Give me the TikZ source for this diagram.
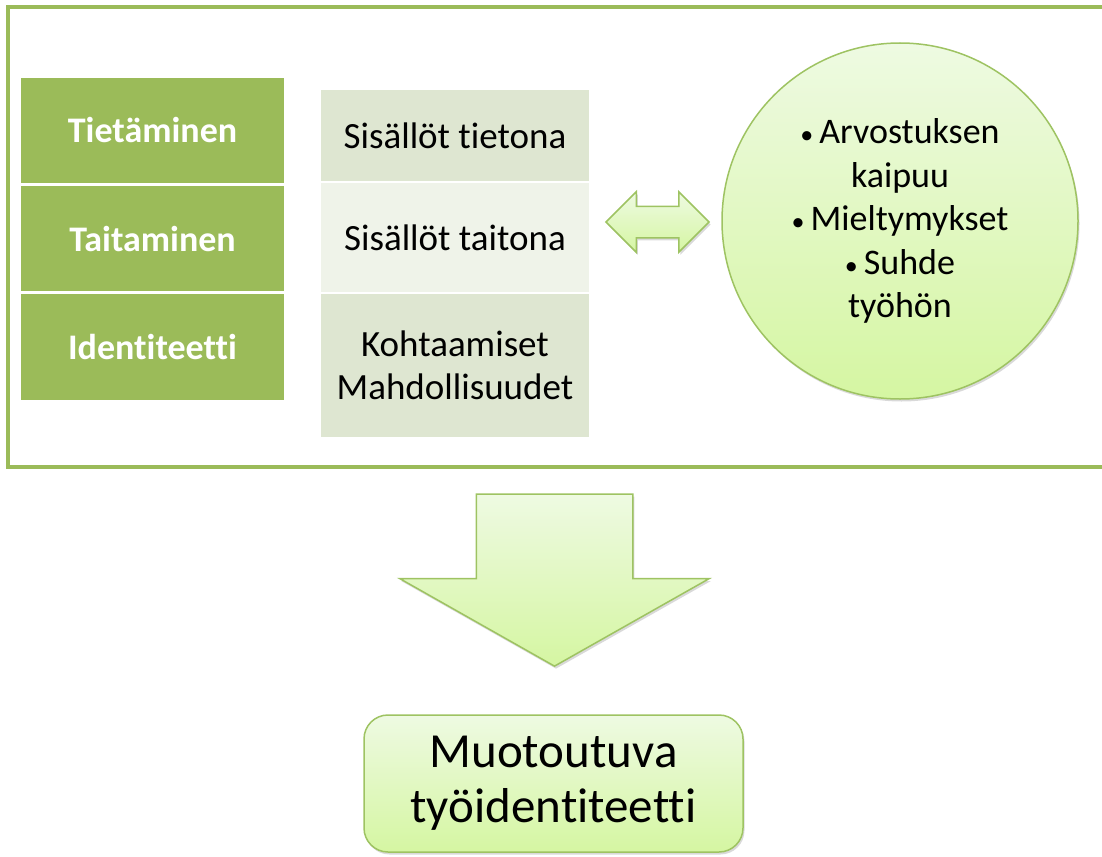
\documentclass[tikz,border=0pt]{standalone}
\usepackage{fontspec}
\setmainfont[Ligatures={NoCommon,NoContextual}]{Carlito}
\usepackage{tikz}
\usetikzlibrary{shapes.geometric,shapes.arrows,shadows}
\definecolor{olive}{RGB}{155,187,89}
\definecolor{celldark}{RGB}{222,230,209}
\definecolor{celllight}{RGB}{239,243,233}
\definecolor{gradtop}{RGB}{238,250,226}
\definecolor{gradbot}{RGB}{213,246,162}
\definecolor{shapeline}{RGB}{158,195,98}

\newcommand{\smallbul}{{\fontsize{26}{26}\selectfont•}\,}

\begin{document}
\begin{tikzpicture}[
  x=1pt, y=-1pt,
  frame/.style={draw=olive, line width=4pt},
  dark/.style={fill=olive, text=white, font=\fontsize{36}{43}\selectfont\bfseries,
               minimum width=263pt, inner sep=0pt},
  cell/.style={font=\fontsize{37}{43}\selectfont, minimum width=268pt,
               inner sep=0pt, align=center},
  soft/.style={draw=shapeline, line width=1.5pt, top color=gradtop, bottom color=gradbot,
               drop shadow={shadow xshift=1.5pt, shadow yshift=-2.5pt, fill=black, opacity=0.15}}
]
\useasboundingbox (0,0) rectangle (1102,856);

% outer frame, right side runs off the page
\draw[frame] (8,7) rectangle (1110,467);

\node[dark, minimum height=105pt] (know)  at (152.5,130.5) {Tietäminen};
\node[dark, minimum height=105pt] (skill) at (152.5,238.5) {Taitaminen};
\node[dark, minimum height=106pt] (ident) at (152.5,347)   {Identiteetti};

\node[cell, fill=celldark,  minimum height=91pt]  (facts)  at (455,135.5) {Sisällöt tietona};
\node[cell, fill=celllight, minimum height=109pt] (skills) at (455,237.5) {Sisällöt taitona};
\node[cell, fill=celldark,  minimum height=143pt] (meets)  at (455,365.5) {Kohtaamiset\\Mahdollisuudet};

\node[double arrow, soft, minimum height=103pt, inner xsep=0pt, inner ysep=15pt,
      double arrow head extend=14.5pt, double arrow tip angle=90] (link) at (657.5,222) {};

\node[circle, soft, minimum size=356pt, inner sep=0pt, align=center,
      font=\fontsize{36}{43.5}\selectfont] (needs) at (900,221)
      {\smallbul Arvostuksen\\kaipuu\\\smallbul Mieltymykset\\\smallbul Suhde\\työhön};

\node[single arrow, soft, shape border rotate=270, minimum height=172pt,
      inner xsep=77.5pt, inner ysep=0pt, single arrow head extend=76.5pt,
      single arrow tip angle=121, anchor=tip] (flow) at (554.5,667) {};

\node[soft, rounded corners=24pt, minimum width=379pt, minimum height=137pt, align=center,
      font=\fontsize{49}{55}\selectfont] (result) at (553.5,783.5) {Muotoutuva\\työidentiteetti};

\end{tikzpicture}
\end{document}
